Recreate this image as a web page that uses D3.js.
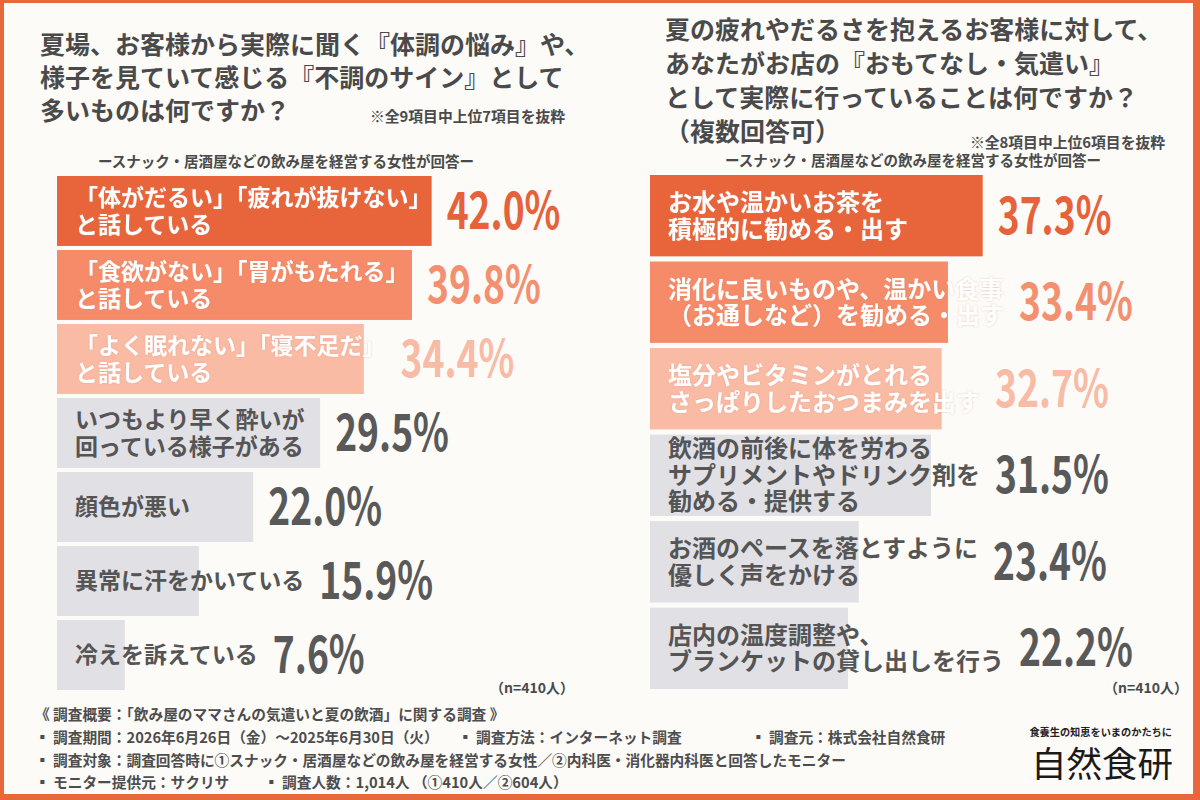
<!DOCTYPE html>
<html>
<head>
<meta charset="utf-8">
<script src="https://cdn.jsdelivr.net/npm/d3@7"></script>
<style>
  html, body { margin: 0; padding: 0; background: #fcfbf8; }
  svg { display: block; }
  text { font-family: "Noto Sans CJK JP", "Noto Sans", sans-serif; }
</style>
</head>
<body>
<script>
// left chart: signs of fatigue heard from customers (n=410)
var leftLabels = [
  ['「体がだるい」「疲れが抜けない」', 'と話している'],
  ['「食欲がない」「胃がもたれる」', 'と話している'],
  ['「よく眠れない」「寝不足だ」', 'と話している'],
  ['いつもより早く酔いが', '回っている様子がある'],
  ['顔色が悪い'],
  ['異常に汗をかいている'],
  ['冷えを訴えている']
];
var leftValues = [42.0, 39.8, 34.4, 29.5, 22.0, 15.9, 7.6];

// right chart: hospitality actually offered (n=410)
var rightLabels = [
  ['お水や温かいお茶を', '積極的に勧める・出す'],
  ['消化に良いものや、温かい食事', '（お通しなど）を勧める・出す'],
  ['塩分やビタミンがとれる', 'さっぱりしたおつまみを出す'],
  ['飲酒の前後に体を労わる', 'サプリメントやドリンク剤を', '勧める・提供する'],
  ['お酒のペースを落とすように', '優しく声をかける'],
  ['店内の温度調整や、', 'ブランケットの貸し出しを行う']
];
var rightValues = [37.3, 33.4, 32.7, 31.5, 23.4, 22.2];

var leftTitle = ['夏場、お客様から実際に聞く『体調の悩み』や、', '様子を見ていて感じる『不調のサイン』として', '多いものは何ですか？'];
var rightTitle = ['夏の疲れやだるさを抱えるお客様に対して、', 'あなたがお店の『おもてなし・気遣い』', 'として実際に行っていることは何ですか？', '（複数回答可）'];
var leftNote = '※全9項目中上位7項目を抜粋';
var rightNote = '※全8項目中上位6項目を抜粋';
var subtitle = 'ースナック・居酒屋などの飲み屋を経営する女性が回答ー';
var sampleNote = '（n=410人）';

var footerLines = [
  [{ t: '《 調査概要：「飲み屋のママさんの気遣いと夏の飲酒」に関する調査 》', x: 35 }],
  [{ t: '▪ 調査期間：2026年6月26日（金）～2025年6月30日（火）', x: 35 },
   { t: '▪ 調査方法：インターネット調査', x: 458 },
   { t: '▪ 調査元：株式会社自然食研', x: 751 }],
  [{ t: '▪ 調査対象：調査回答時に①スナック・居酒屋などの飲み屋を経営する女性／②内科医・消化器内科医と回答したモニター', x: 35 }],
  [{ t: '▪ モニター提供元：サクリサ', x: 35 },
   { t: '▪ 調査人数：1,014人 （①410人／②604人）', x: 264 }]
];

var width = 1200, height = 800;
var barColors = ['#e8643a', '#f58b68', '#fabba5'];
var valueColors = ['#e5623a', '#f3906f', '#f8bba6'];
var grayBar = '#e1e0e5', grayText = '#555555', grayValue = '#595959';
var ink = '#4a4a4a';

var svg = d3.select('body').append('svg')
    .attr('width', width)
    .attr('height', height);

// frame
svg.append('rect').attr('width', width).attr('height', height).attr('fill', '#e8673c');
svg.append('rect').attr('x', 4).attr('y', 3).attr('width', 1189).attr('height', 791).attr('fill', '#fcfbf8');

var defs = svg.append('defs');
var f = defs.append('filter').attr('id', 'halo').attr('x', '-5%').attr('y', '-20%').attr('width', '110%').attr('height', '140%');
f.append('feDropShadow').attr('dx', 0).attr('dy', 0).attr('stdDeviation', 1.2)
  .attr('flood-color', '#d98a70').attr('flood-opacity', 0.45);

// titles
function drawLines(lines, x, y0, step, size) {
  svg.append('g').selectAll('text')
    .data(lines).enter().append('text')
      .attr('x', x)
      .attr('y', function (d, i) { return y0 + i * step; })
      .attr('font-size', size)
      .attr('font-weight', 700)
      .attr('fill', ink)
      .text(function (d) { return d; });
}
drawLines(leftTitle, 40, 54, 33, 25);
drawLines(rightTitle, 665, 39, 34, 25);

svg.append('text').attr('x', 370).attr('y', 122).attr('font-size', 14.8).attr('font-weight', 700)
  .attr('fill', ink).text(leftNote);
svg.append('text').attr('x', 970).attr('y', 148).attr('font-size', 14.8).attr('font-weight', 700)
  .attr('fill', ink).text(rightNote);
svg.append('text').attr('x', 286).attr('y', 167).attr('text-anchor', 'middle').attr('font-size', 14.5)
  .attr('font-weight', 700).attr('fill', ink).text(subtitle);
svg.append('text').attr('x', 913).attr('y', 166).attr('text-anchor', 'middle').attr('font-size', 14.5)
  .attr('font-weight', 700).attr('fill', ink).text(subtitle);

// one bar panel
function drawPanel(labels, values, x0, yTop, yBottom, pad, fontSize, lineH) {
  var x = d3.scaleLinear().domain([0, 100]).range([x0, x0 + 892]);
  var y = d3.scaleBand().domain(d3.range(values.length)).range([yTop, yBottom]).paddingInner(pad);

  var g = svg.append('g');
  var rows = g.selectAll('g.row')
    .data(values).enter().append('g').attr('class', 'row');

  rows.append('rect')
    .attr('x', x(0))
    .attr('y', function (d, i) { return y(i); })
    .attr('width', function (d) { return x(d) - x(0); })
    .attr('height', y.bandwidth())
    .attr('fill', function (d, i) { return i < 3 ? barColors[i] : grayBar; });

  rows.each(function (d, i) {
    var row = d3.select(this);
    var lines = labels[i];
    var cy = y(i) + y.bandwidth() / 2;
    var t = row.append('text')
      .attr('font-size', fontSize)
      .attr('font-weight', 700)
      .attr('fill', i < 3 ? '#ffffff' : grayText)
      .attr('filter', i < 3 ? 'url(#halo)' : null);
    lines.forEach(function (ln, k) {
      t.append('tspan')
        .attr('x', x(0) + 18)
        .attr('y', cy + (k - (lines.length - 1) / 2) * lineH + fontSize * 0.36)
        .text(ln);
    });
    var bb = t.node().getBBox();
    var lx = Math.max(bb.x + bb.width, x(d)) + 15;
    row.append('text')
      .attr('transform', 'translate(' + lx + ',' + (cy + 18) + ') scale(0.73,1)')
      .attr('font-family', 'Roboto, sans-serif')
      .attr('font-size', 51)
      .attr('font-weight', 700)
      .attr('fill', i < 3 ? valueColors[i] : grayValue)
      .text(d.toFixed(1) + '%');
  });
}
drawPanel(leftLabels, leftValues, 57, 176, 690, 0.055, 23, 27);
drawPanel(rightLabels, rightValues, 650, 175, 689, 0.06, 24, 26.5);

svg.append('text').attr('x', 574).attr('y', 693).attr('text-anchor', 'end').attr('font-size', 14)
  .attr('font-weight', 700).attr('fill', ink).text(sampleNote);
svg.append('text').attr('x', 1188).attr('y', 693).attr('text-anchor', 'end').attr('font-size', 14)
  .attr('font-weight', 700).attr('fill', ink).text(sampleNote);

// footer
footerLines.forEach(function (line, i) {
  svg.append('g').selectAll('text')
    .data(line).enter().append('text')
      .attr('x', function (d) { return d.x; })
      .attr('y', 720 + i * 22.8)
      .attr('font-size', 14.7)
      .attr('font-weight', 700)
      .attr('fill', '#4d4d4d')
      .text(function (d) { return d.t; });
});

// logo
svg.append('text').attr('x', 1172).attr('y', 736).attr('text-anchor', 'end').attr('font-size', 10.2)
  .attr('font-weight', 700).attr('fill', '#222').text('食養生の知恵をいまのかたちに');
svg.append('text').attr('x', 1173).attr('y', 777).attr('text-anchor', 'end').attr('font-size', 35.5)
  .attr('font-weight', 400).attr('fill', '#1a1a1a').text('自然食研');
</script>
</body>
</html>
